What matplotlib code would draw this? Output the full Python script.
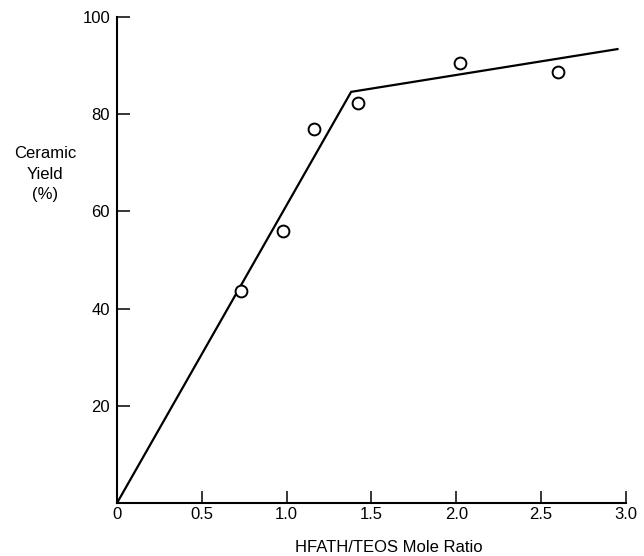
import matplotlib.pyplot as plt

# ── Data ──────────────────────────────────────────────────────────────────────
ratio_pts = [0.73, 0.98, 1.16, 1.42, 2.02, 2.60]
yield_pts = [43.7, 56.0, 77.0, 82.4, 90.5, 88.7]

fit_x = [0.0, 1.38, 2.95]
fit_y = [0.0, 84.6, 93.4]

x_ticks = [0, 0.5, 1.0, 1.5, 2.0, 2.5, 3.0]
x_labels = ["0", "0.5", "1.0", "1.5", "2.0", "2.5", "3.0"]
y_ticks = [20, 40, 60, 80, 100]

plt.rcParams["font.family"] = ["Liberation Sans", "DejaVu Sans"]

# ── Figure ────────────────────────────────────────────────────────────────────
fig = plt.figure(figsize=(6.44, 5.56), dpi=100)
ax = fig.add_axes([0.1817, 0.0953, 0.972 - 0.1817, 0.9694 - 0.0953])

ax.plot(fit_x, fit_y, color="black", lw=1.6, solid_joinstyle="miter")
ax.plot(ratio_pts, yield_pts, "o", mfc="white", mec="black", ms=8.5, mew=1.4)

ax.set_xlim(0, 3.0)
ax.set_ylim(0, 100)

ax.set_xticks(x_ticks)
ax.set_xticklabels(x_labels)
ax.set_yticks(y_ticks)

for side in ["top", "right"]:
    ax.spines[side].set_visible(False)
for side in ["left", "bottom"]:
    ax.spines[side].set_linewidth(1.5)

ax.tick_params(direction="in", length=9, width=1.1, labelsize=12, pad=3)
ax.tick_params(axis="y", pad=5)

fig.text(389 / 644, 1 - 548 / 556, "HFATH/TEOS Mole Ratio",
         ha="center", va="center", fontsize=12)
fig.text(45 / 644, 1 - 174 / 556, "Ceramic\nYield\n(%)",
         ha="center", va="center", fontsize=12, linespacing=1.45)

fig.savefig("out.png", dpi=100)
